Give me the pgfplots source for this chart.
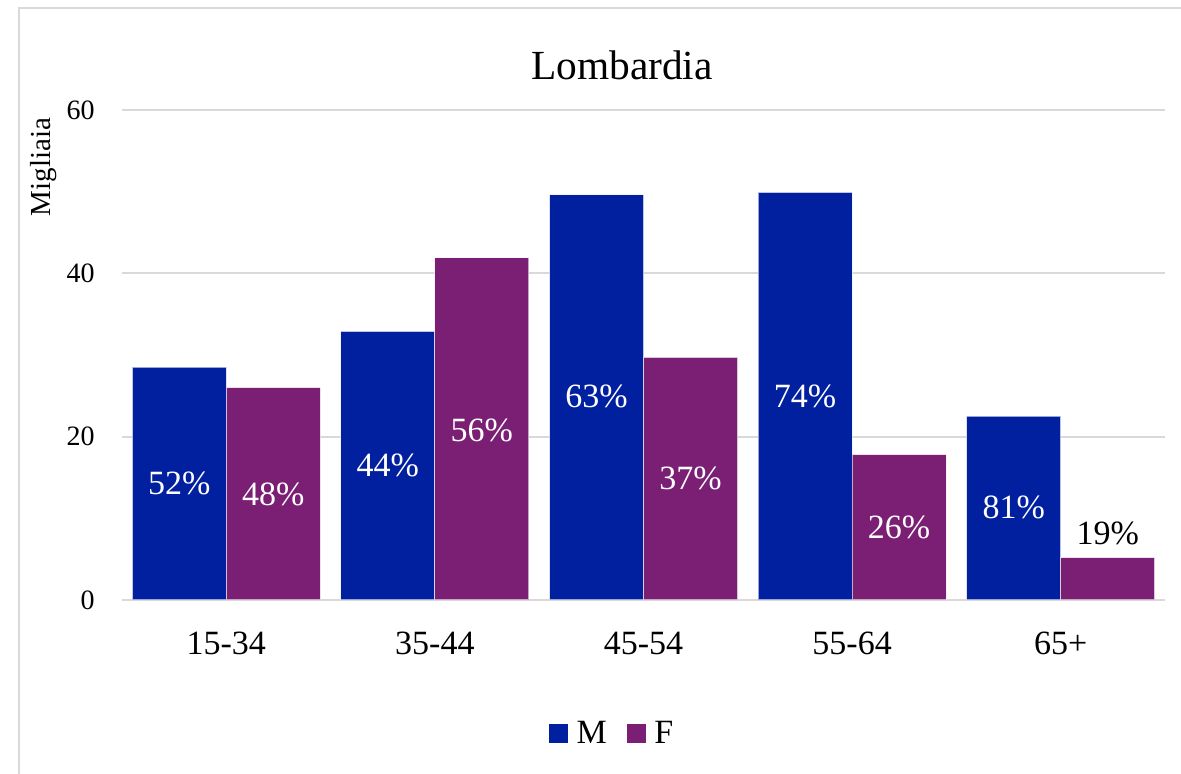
\documentclass[border=0pt]{standalone}
\usepackage{fontspec}
\setmainfont{Liberation Serif}
\usepackage{pgfplots}
\pgfplotsset{compat=1.18}
\definecolor{cM}{RGB}{0,32,159}
\definecolor{cF}{RGB}{122,31,115}
\definecolor{gridgray}{RGB}{217,217,217}
\begin{document}
\begin{tikzpicture}
\path[use as bounding box] (0,0) rectangle (590.5pt,387pt);
\draw[gridgray, line width=1pt] (9.5pt,0) -- (9.5pt,383pt) -- (590.5pt,383pt);
\node[anchor=base] at (311pt,347pt) {\fontsize{20.7}{24}\selectfont Lombardia};
\node[rotate=90, anchor=base, inner sep=0pt] at (25pt,303.5pt) {\fontsize{14.5}{17}\selectfont Migliaia};
\begin{axis}[
  at={(61pt,87pt)}, anchor=south west,
  scale only axis, width=521.5pt, height=245pt,
  xmin=-0.5, xmax=4.5, ymin=0, ymax=60,
  ybar=0pt, bar width=47pt,
  xtick={0,1,2,3,4}, xticklabels={15-34,35-44,45-54,55-64,65+},
  ytick={0,20,40,60},
  ymajorgrids, grid style={gridgray, line width=1pt},
  axis x line*=bottom, axis y line*=left,
  y axis line style={draw=none},
  x axis line style={gridgray, line width=1pt, -},
  major tick length=0pt,
  /pgf/number format/assume math mode=true,
  yticklabel style={font=\fontsize{14}{16}\selectfont, anchor=east, inner sep=0pt, xshift=-13.5pt},
  xticklabel style={font=\fontsize{17}{20}\selectfont, anchor=base, inner sep=0pt, yshift=-27.5pt},
  legend columns=2,
  legend style={at={(0.471,-0.273)}, anchor=center, draw=none, fill=none,
    font=\fontsize{17}{20}\selectfont,
    /tikz/every odd column/.append style={column sep=2.25pt},
    /tikz/every even column/.append style={column sep=8pt}},
  legend image code/.code={\fill[#1,draw=none] (0pt,-4.5pt) rectangle (9.5pt,5pt);},
  every axis plot/.append style={draw=white, draw opacity=0.6, line width=0.5pt},
]
\addplot[fill=cM] coordinates {(0,28.5) (1,32.9) (2,49.6) (3,49.9) (4,22.5)};
\addlegendentry{M}
\addplot[fill=cF] coordinates {(0,26.0) (1,41.9) (2,29.7) (3,17.8) (4,5.2)};
\addlegendentry{F}
\begin{scope}[every node/.style={font=\fontsize{17}{20}\selectfont, inner sep=0pt}]
\node[white, xshift=-23.5pt] at (axis cs:0,14.3) {52\%};
\node[white, xshift=23.5pt] at (axis cs:0,12.9) {48\%};
\node[white, xshift=-23.5pt] at (axis cs:1,16.5) {44\%};
\node[white, xshift=23.5pt] at (axis cs:1,20.8) {56\%};
\node[white, xshift=-23.5pt] at (axis cs:2,24.9) {63\%};
\node[white, xshift=23.5pt] at (axis cs:2,14.9) {37\%};
\node[white, xshift=-23.5pt] at (axis cs:3,24.9) {74\%};
\node[white, xshift=23.5pt] at (axis cs:3,8.9) {26\%};
\node[white, xshift=-23.5pt] at (axis cs:4,11.3) {81\%};
\node[black, xshift=23.5pt] at (axis cs:4,8.2) {19\%};
\end{scope}
\end{axis}
\end{tikzpicture}
\end{document}
